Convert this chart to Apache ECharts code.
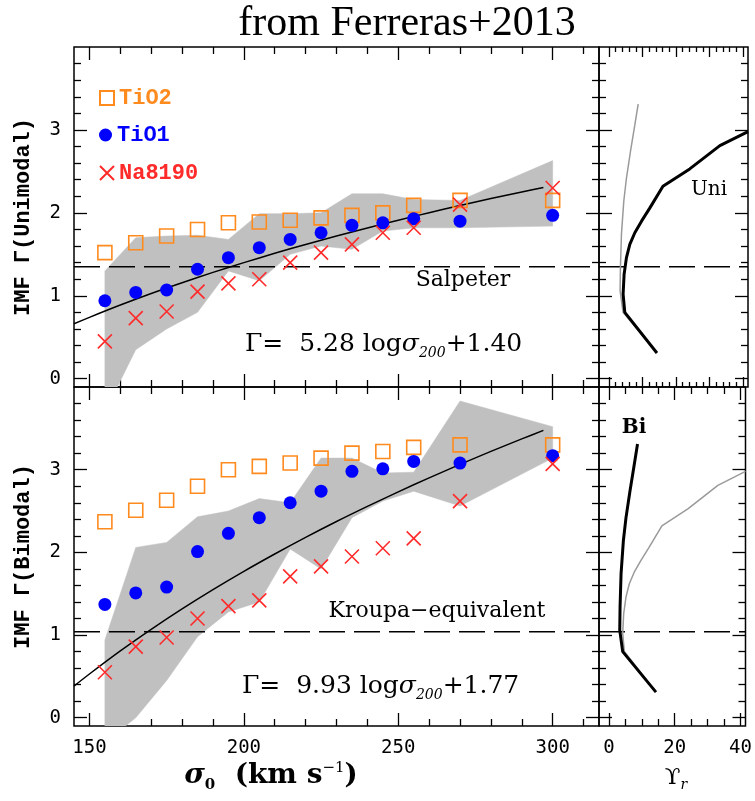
<!DOCTYPE html>
<html><head><meta charset="utf-8">
<script src="https://cdn.jsdelivr.net/npm/echarts@6/dist/echarts.min.js"></script>
<style>html,body{margin:0;padding:0;background:#fff}#c{width:755px;height:801px}</style>
</head><body><div id="c"></div>
<script>
// ---- data ----
const sigmaBins = [155,165,175,185,195,205,215,225,235,245,255,270,300];
// Unimodal panel
const uniTiO2 = [1.52,1.64,1.72,1.80,1.88,1.89,1.91,1.94,1.97,2.00,2.09,2.15,2.15];
const uniTiO1 = [0.94,1.04,1.07,1.32,1.46,1.58,1.68,1.76,1.85,1.88,1.93,1.90,1.97];
const uniNa   = [0.45,0.73,0.81,1.05,1.15,1.20,1.40,1.52,1.62,1.76,1.82,2.10,2.30];
const uniBandUpper = [1.30,1.70,1.72,1.73,1.68,1.99,1.99,2.00,2.23,2.23,2.16,2.15,2.63];
const uniBandLower = [-0.40,0.35,0.60,0.80,1.30,1.18,1.50,1.60,1.56,1.78,1.82,1.82,1.84];
// Bimodal panel
const biTiO2 = [2.37,2.51,2.63,2.80,3.00,3.04,3.08,3.14,3.20,3.22,3.27,3.30,3.30];
const biTiO1 = [1.37,1.51,1.58,2.01,2.23,2.42,2.60,2.74,2.98,3.01,3.10,3.08,3.17];
const biNa   = [0.55,0.86,0.97,1.20,1.35,1.42,1.71,1.83,1.95,2.05,2.17,2.62,3.07];
const biBandUpper = [0.94,2.06,2.12,2.43,2.50,2.65,2.60,3.14,3.14,2.96,2.97,3.83,3.52];
const biBandLower = [-0.30,0.00,0.45,0.98,1.28,1.40,2.04,1.80,2.42,2.62,2.74,2.56,3.14];
// fit lines
const fitSigma = [145,150,160,170,180,190,200,210,220,230,240,250,260,270,280,290,297];
const uniFit = [0.663,0.740,0.888,1.027,1.158,1.282,1.400,1.512,1.619,1.720,1.818,1.912,2.002,2.088,2.172,2.252,2.307];
const biFit  = [0.383,0.529,0.808,1.069,1.316,1.549,1.770,1.980,2.181,2.373,2.556,2.732,2.901,3.064,3.221,3.372,3.475];
// reference IMF slopes
const salpeterGamma = 1.35;
const kroupaGamma = 1.04;
// M/L curves (Upsilon_r, Gamma)
const uniMLx = [14.3,4.7,4.2,4.5,5.2,6.2,7.7,9.7,12.2,16.1,24.1,33.1,41.5];
const uniMLy = [0.31,0.80,1.02,1.26,1.46,1.62,1.76,1.90,2.06,2.32,2.53,2.81,2.98];
const biMLx  = [14.3,4.2,3.3,3.4,3.7,4.4,5.2,6.4,7.7,8.7];
const biMLy  = [0.31,0.80,1.06,1.34,1.74,2.14,2.42,2.74,3.06,3.31];
// axes
const sigmaRange = [145,315];
const gammaRange = [-0.1,4.0];
const upsRange = [-3,41.5];
const sigmaMajor = [150,200,250,300];
const sigmaMinor = [160,170,180,190,210,220,230,240,260,270,280,290,310];
const gammaMajor = [0,1,2,3];
const gammaMinor = [0.2,0.4,0.6,0.8,1.2,1.4,1.6,1.8,2.2,2.4,2.6,2.8,3.2,3.4,3.6,3.8];
const upsMajor = [0,20,40];
const upsMinor = [5,10,15,25,30,35];
const upsDenseMajor = [0,10,20,30,40];
const upsDenseMinor = [2,4,6,8,12,14,16,18,22,24,26,28,32,34,36,38];

const C_OR = '#ff8a1e', C_BL = '#0000ff', C_RD = '#ff2a2a', C_BAND = '#c0c0c0';
const MONO = 'Liberation Mono';
const TICKF = 'DejaVu Sans Mono';
const SERIF = 'DejaVu Serif';

const grids = [
  {left:74, top:47, width:525, height:340},
  {left:74, top:387, width:525, height:339},
  {left:599, top:47, width:149, height:340},
  {left:599, top:387, width:149, height:339}
].map(g => Object.assign(g, {show:true, borderColor:'#000', borderWidth:1.5, backgroundColor:'transparent', containLabel:false}));

const xAxes = [], yAxes = [];
const tickLS = {color:'#000', width:1.3};
function addAxis(arr, grid, pos, range, majors, minors, labels, majLen, minLen, extra) {
  const base = {type:'value', gridIndex:grid, position:pos, min:range[0], max:range[1],
    axisLine:{show:false, onZero:false}, splitLine:{show:false}, minorTick:{show:false}};
  const idx = arr.length;
  arr.push(Object.assign({}, base, extra || {}, {
    axisTick:{show:true, inside:true, length:majLen, customValues:majors, lineStyle:tickLS},
    axisLabel: labels ? {show:true, customValues:labels, margin:13, fontFamily:TICKF, fontSize:19, color:'#000'} : {show:false}
  }));
  arr.push(Object.assign({}, base, {
    axisTick:{show:true, inside:true, length:minLen, customValues:minors, lineStyle:tickLS},
    axisLabel:{show:false}
  }));
  return idx;
}
const yNameStyle = {fontFamily:MONO, fontSize:22, fontWeight:'bold', color:'#000'};
// grid 0 (top-left)
const x0 = addAxis(xAxes,0,'bottom',sigmaRange,sigmaMajor,sigmaMinor,null,13,7);
addAxis(xAxes,0,'top',sigmaRange,sigmaMajor,sigmaMinor,null,13,7);
const y0 = addAxis(yAxes,0,'left',gammaRange,gammaMajor,gammaMinor,gammaMajor,13,7,
  {name:'IMF Γ(Unimodal)', nameLocation:'middle', nameRotate:90, nameGap:40, nameTextStyle:yNameStyle});
addAxis(yAxes,0,'right',gammaRange,gammaMajor,gammaMinor,null,13,7);
// grid 1 (bottom-left)
const x1 = addAxis(xAxes,1,'bottom',sigmaRange,sigmaMajor,sigmaMinor,sigmaMajor,13,7);
addAxis(xAxes,1,'top',sigmaRange,sigmaMajor,sigmaMinor,null,13,7);
const y1 = addAxis(yAxes,1,'left',gammaRange,gammaMajor,gammaMinor,gammaMajor,13,7,
  {name:'IMF Γ(Bimodal)', nameLocation:'middle', nameRotate:90, nameGap:40, nameTextStyle:yNameStyle});
addAxis(yAxes,1,'right',gammaRange,gammaMajor,gammaMinor,null,13,7);
// grid 2 (top-right)
const x2 = addAxis(xAxes,2,'bottom',upsRange,upsDenseMajor,upsDenseMinor,null,10,5);
addAxis(xAxes,2,'top',upsRange,upsDenseMajor,upsDenseMinor,null,10,5);
const y2 = addAxis(yAxes,2,'left',gammaRange,gammaMajor,gammaMinor,null,13,7);
addAxis(yAxes,2,'right',gammaRange,gammaMajor,gammaMinor,null,13,7);
// grid 3 (bottom-right)
const x3 = addAxis(xAxes,3,'bottom',upsRange,upsMajor,upsMinor,upsMajor,13,7);
addAxis(xAxes,3,'top',upsRange,upsMajor,upsMinor,null,13,7);
const y3 = addAxis(yAxes,3,'left',gammaRange,gammaMajor,gammaMinor,null,13,7);
addAxis(yAxes,3,'right',gammaRange,gammaMajor,gammaMinor,null,13,7);

function pairs(xs, ys) { return xs.map((x,i) => [x, ys[i]]); }

function bandSeries(xi, yi, upper, lower) {
  return {
    type:'custom', xAxisIndex:xi, yAxisIndex:yi, z:1, silent:true, clip:true,
    data: sigmaBins.map((x,i) => [x, upper[i], lower[i]]),
    encode:{x:0, y:[1,2]},
    renderItem: function (params, api) {
      if (params.dataIndex !== 0) return;
      const pts = [];
      for (let i = 0; i < sigmaBins.length; i++) pts.push(api.coord([sigmaBins[i], upper[i]]));
      for (let i = sigmaBins.length - 1; i >= 0; i--) pts.push(api.coord([sigmaBins[i], lower[i]]));
      const cs = params.coordSys;
      return {type:'polygon', shape:{points:pts}, style:{fill:C_BAND, stroke:C_BAND, lineWidth:0.5},
        clipPath:{type:'rect', shape:{x:cs.x, y:cs.y, width:cs.width, height:cs.height}}};
    }
  };
}
function hLine(xi, yi, range, g) {
  return {type:'line', xAxisIndex:xi, yAxisIndex:yi, z:2, silent:true, symbol:'none',
    data:[[range[0], g],[range[1], g]], lineStyle:{color:'#000', width:1.4, type:[26,9]}};
}
function fitLine(xi, yi, ys) {
  return {type:'line', xAxisIndex:xi, yAxisIndex:yi, z:3, silent:true, symbol:'none', smooth:0.3,
    data:pairs(fitSigma, ys), lineStyle:{color:'#000', width:1.5}};
}
const crossPath = 'path://M0,0L10,10M10,0L0,10';
function markers(xi, yi, tio2, tio1, na) {
  return [
    {name:'TiO2', type:'scatter', xAxisIndex:xi, yAxisIndex:yi, z:4, symbol:'rect', symbolSize:14,
      data:pairs(sigmaBins, tio2), itemStyle:{color:'rgba(255,255,255,0)', borderColor:C_OR, borderWidth:1.6, opacity:1}},
    {name:'TiO1', type:'scatter', xAxisIndex:xi, yAxisIndex:yi, z:5, symbol:'circle', symbolSize:13,
      data:pairs(sigmaBins, tio1), itemStyle:{color:C_BL, opacity:1}},
    {name:'Na8190', type:'scatter', xAxisIndex:xi, yAxisIndex:yi, z:6, symbol:crossPath, symbolSize:14,
      data:pairs(sigmaBins, na), itemStyle:{color:'rgba(255,255,255,0)', borderColor:C_RD, borderWidth:1.6, opacity:1}}
  ];
}
function mlLine(xi, yi, xs, ys, thick, z) {
  return {type:'line', xAxisIndex:xi, yAxisIndex:yi, z:z, silent:true, symbol:'none',
    data:pairs(xs, ys), lineStyle: thick ? {color:'#000', width:3} : {color:'#9a9a9a', width:1.5}};
}

const series = [
  bandSeries(x0, y0, uniBandUpper, uniBandLower),
  hLine(x0, y0, sigmaRange, salpeterGamma),
  fitLine(x0, y0, uniFit),
  ...markers(x0, y0, uniTiO2, uniTiO1, uniNa),
  bandSeries(x1, y1, biBandUpper, biBandLower),
  hLine(x1, y1, sigmaRange, kroupaGamma),
  fitLine(x1, y1, biFit),
  ...markers(x1, y1, biTiO2, biTiO1, biNa),
  hLine(x2, y2, upsRange, salpeterGamma),
  mlLine(x2, y2, biMLx, biMLy, false, 3),
  mlLine(x2, y2, uniMLx, uniMLy, true, 4),
  hLine(x3, y3, upsRange, kroupaGamma),
  mlLine(x3, y3, uniMLx, uniMLy, false, 3),
  mlLine(x3, y3, biMLx, biMLy, true, 4)
];

function legendItem(name, color, top, w, h) {
  return {show:true, selectedMode:false, orient:'vertical', left:99, top:top, itemWidth:w, itemHeight:h,
    data:[{name:name}], textStyle:{fontFamily:MONO, fontSize:22, fontWeight:'bold', color:color}, padding:0};
}

const serifBase = {fontFamily:SERIF, fill:'#000'};
const graphic = [
  {type:'text', x:407, y:24, style:{text:'from Ferreras+2013', fontFamily:'Liberation Serif', fontSize:42, fill:'#000', align:'center', verticalAlign:'middle'}},
  {type:'text', x:463, y:280, style:Object.assign({text:'Salpeter', fontSize:22, align:'center', verticalAlign:'middle'}, serifBase)},
  {type:'text', x:437, y:611, style:Object.assign({text:'Kroupa\u2212equivalent', fontSize:22, align:'center', verticalAlign:'middle'}, serifBase)},
  {type:'text', x:709, y:190, style:Object.assign({text:'Uni', fontSize:20, align:'center', verticalAlign:'middle'}, serifBase)},
  {type:'text', x:634, y:428, style:Object.assign({text:'Bi', fontSize:20, fontWeight:'bold', align:'center', verticalAlign:'middle'}, serifBase)},
  {type:'text', x:245, y:344, style:{text:'{a|Γ=  5.28 log}{s|σ}{b|200}{a|+1.40}', verticalAlign:'middle',
    rich:{a:{fontFamily:SERIF, fontSize:25, lineHeight:32}, s:{fontFamily:SERIF, fontStyle:'italic', fontSize:25, lineHeight:32},
          b:{fontFamily:SERIF, fontStyle:'italic', fontSize:14, padding:[18,0,0,0], lineHeight:15}}}},
  {type:'text', x:242, y:686, style:{text:'{a|Γ=  9.93 log}{s|σ}{b|200}{a|+1.77}', verticalAlign:'middle',
    rich:{a:{fontFamily:SERIF, fontSize:25, lineHeight:32}, s:{fontFamily:SERIF, fontStyle:'italic', fontSize:25, lineHeight:32},
          b:{fontFamily:SERIF, fontStyle:'italic', fontSize:14, padding:[18,0,0,0], lineHeight:15}}}},
  {type:'text', x:271, y:776, style:{text:'{s|σ}{b|0}{a|  (km s}{p|\u22121}{a|)}', align:'center', verticalAlign:'middle',
    rich:{a:{fontFamily:SERIF, fontSize:28, fontWeight:'bold', lineHeight:34}, s:{fontFamily:SERIF, fontStyle:'italic', fontWeight:'bold', fontSize:28, lineHeight:34},
          b:{fontFamily:SERIF, fontSize:15, fontWeight:'bold', padding:[18,0,0,0], lineHeight:16},
          p:{fontFamily:SERIF, fontSize:15, padding:[0,0,16,0], lineHeight:16}}}},
  {type:'text', x:676, y:778, style:{text:'{a|\u03D2}{b|r}', align:'center', verticalAlign:'middle',
    rich:{a:{fontFamily:SERIF, fontSize:23, lineHeight:30}, b:{fontFamily:SERIF, fontStyle:'italic', fontSize:14, padding:[14,0,0,0], lineHeight:14}}}}
];

const chart = echarts.init(document.getElementById('c'), null, {renderer:'canvas', width:755, height:801});
chart.setOption({
  animation:false,
  backgroundColor:'#fff',
  grid:grids,
  xAxis:xAxes,
  yAxis:yAxes,
  legend:[legendItem('TiO2', C_OR, 87, 14, 14), legendItem('TiO1', C_BL, 124, 13, 13), legendItem('Na8190', C_RD, 162, 14, 14)],
  graphic:graphic,
  series:series
});
</script></body></html>
